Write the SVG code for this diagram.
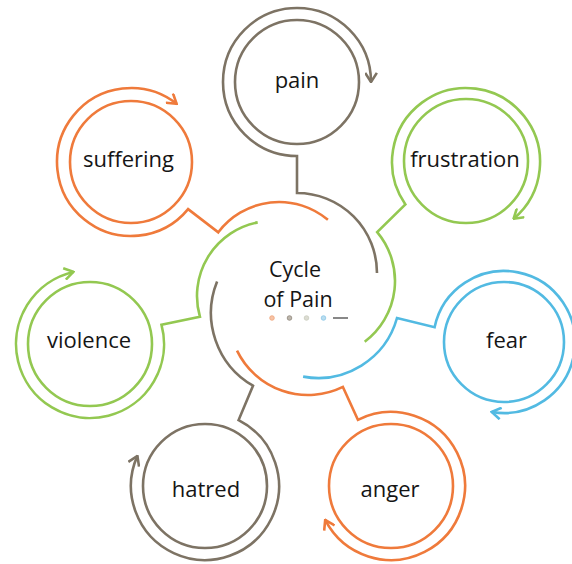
<svg xmlns="http://www.w3.org/2000/svg" width="572" height="564" viewBox="0 0 572 564">
<style>
.ring{fill:none;stroke-width:2.6;stroke-linejoin:miter;stroke-linecap:butt}
.inner{fill:#fff;stroke-width:2.6}
.lbl{font-family:"Open Sans","Noto Sans",sans-serif;font-size:22px;fill:#151515;text-anchor:middle}
.title{font-family:"Open Sans","Noto Sans",sans-serif;font-size:21.5px;fill:#151515;text-anchor:middle}
.or{stroke:#EF7A3B}.gr{stroke:#7D7364}.gn{stroke:#93C851}.bl{stroke:#52BAE2}
</style>
<defs>
<marker id="aOr" viewBox="0 0 10 10" refX="9" refY="5" markerWidth="13" markerHeight="13" markerUnits="userSpaceOnUse" orient="auto"><path d="M2,0.5 L9,5 L2,9.5" fill="none" stroke="#EF7A3B" stroke-width="2"/></marker>
<marker id="aGr" viewBox="0 0 10 10" refX="9" refY="5" markerWidth="13" markerHeight="13" markerUnits="userSpaceOnUse" orient="auto"><path d="M2,0.5 L9,5 L2,9.5" fill="none" stroke="#7D7364" stroke-width="2"/></marker>
<marker id="aGn" viewBox="0 0 10 10" refX="9" refY="5" markerWidth="13" markerHeight="13" markerUnits="userSpaceOnUse" orient="auto"><path d="M2,0.5 L9,5 L2,9.5" fill="none" stroke="#93C851" stroke-width="2"/></marker>
<marker id="aBl" viewBox="0 0 10 10" refX="9" refY="5" markerWidth="13" markerHeight="13" markerUnits="userSpaceOnUse" orient="auto"><path d="M2,0.5 L9,5 L2,9.5" fill="none" stroke="#52BAE2" stroke-width="2"/></marker>
</defs>
<rect width="572" height="564" fill="#fff"/>
<g id="connectors">
<path class="ring gr" marker-end="url(#aGr)" d="M377,273 A80,80 0 0 0 297,193 L297,156 A74,74 0 1 1 371,82"/>
<path class="ring or" marker-end="url(#aOr)" d="M327.9,219.8 A76,76 0 0 0 218.3,232.3 L188.1,209.1 A74,74 0 1 1 176.6,103.7"/>
<path class="ring gn" marker-end="url(#aGn)" d="M364.7,341.7 A76,76 0 0 0 377.2,232.1 L405.4,204.4 A74,74 0 1 1 513.6,218.7"/>
<path class="ring bl" marker-end="url(#aBl)" d="M303.1,376.6 A82,82 0 0 0 397,318 L434.6,327.2 A71,71 0 1 1 491.7,411.9"/>
<path class="ring gn" marker-end="url(#aGn)" d="M257.7,222.4 A75,75 0 0 0 199.9,316.7 L161.5,324.8 A74,74 0 1 1 73.4,271.9"/>
<path class="ring gr" marker-end="url(#aGr)" d="M217.1,281.5 A84,84 0 0 0 253,385.7 L238.6,420.1 A74,74 0 1 1 137.4,455.9"/>
<path class="ring or" marker-end="url(#aOr)" d="M237,350.6 A79,79 0 0 0 342.9,386.9 L357.9,419.8 A74,74 0 1 1 325.2,519.9"/>
</g>
<g id="node-center">
<text class="title" x="295" y="277">Cycle</text>
<text class="title" x="298" y="306.5">of Pain</text>
<circle cx="272" cy="318" r="2.3" fill="#F6C3A6" stroke="#EFA47B" stroke-width="0.8"/>
<circle cx="289.5" cy="318" r="2.3" fill="#BDB6AC" stroke="#8F877B" stroke-width="0.8"/>
<circle cx="306.5" cy="318" r="2.3" fill="#DCDCD2" stroke="#C9CBBE" stroke-width="0.8"/>
<circle cx="323.5" cy="318" r="2.3" fill="#B8DDF0" stroke="#8CC7E6" stroke-width="0.8"/>
<line x1="333" y1="318" x2="348" y2="318" stroke="#555" stroke-width="1.4"/>
</g>
<g id="node-pain"><circle class="inner gr" cx="297" cy="82" r="62"/><text class="lbl" x="297" y="88">pain</text></g>
<g id="node-suffering"><circle class="inner or" cx="131" cy="162" r="61"/><text class="lbl" x="128.5" y="167">suffering</text></g>
<g id="node-frustration"><circle class="inner gn" cx="466" cy="161" r="62"/><text class="lbl" x="465" y="167">frustration</text></g>
<g id="node-fear"><circle class="inner bl" cx="504" cy="342" r="60"/><text class="lbl" x="506.5" y="348">fear</text></g>
<g id="node-violence"><circle class="inner gn" cx="90" cy="344" r="62"/><text class="lbl" x="89" y="348">violence</text></g>
<g id="node-hatred"><circle class="inner gr" cx="205" cy="486" r="62"/><text class="lbl" x="206" y="497">hatred</text></g>
<g id="node-anger"><circle class="inner or" cx="391" cy="486" r="62"/><text class="lbl" x="390" y="497">anger</text></g>
</svg>
